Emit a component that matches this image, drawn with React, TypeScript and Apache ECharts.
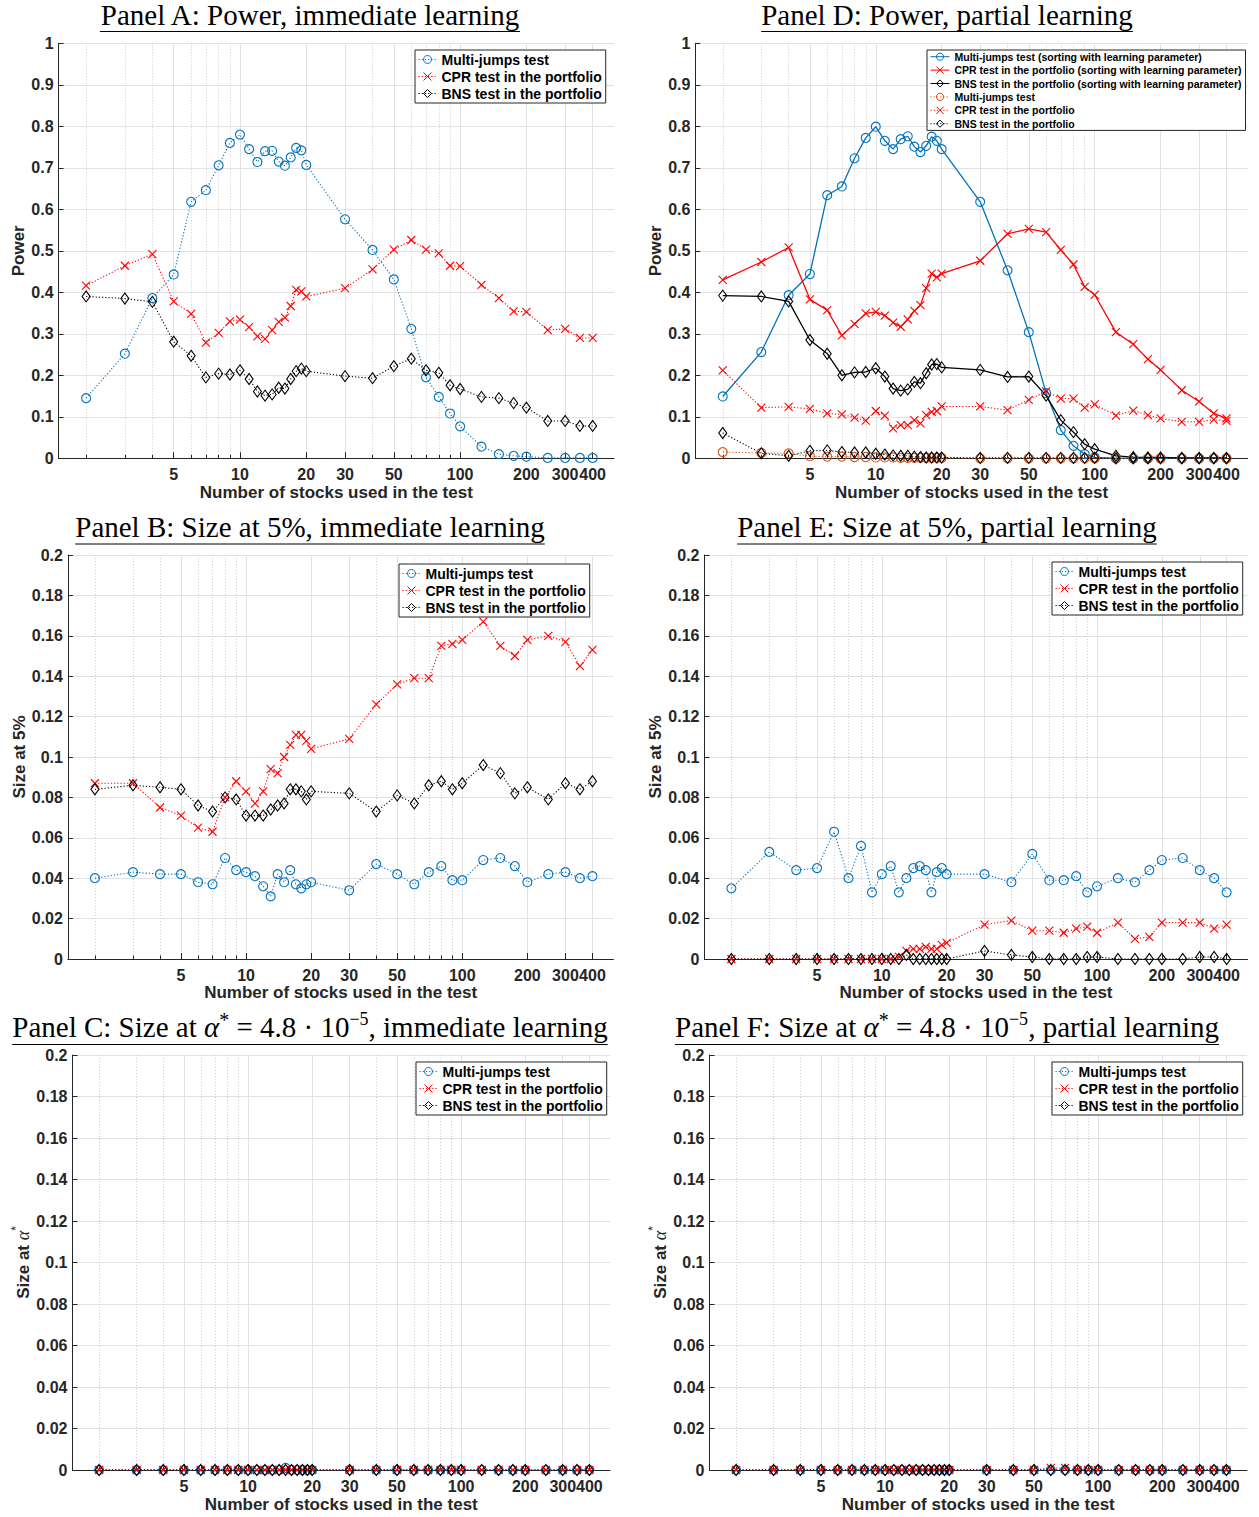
import { useEffect, useRef } from 'react';
import * as echarts from 'echarts';

// Number of stocks in each test portfolio (x positions, log scale)
const STOCKS = [
  2, 3, 4, 5, 6, 7, 8, 9, 10, 11, 12, 13, 14, 15, 16, 17, 18, 19, 20,
  30, 40, 50, 60, 70, 80, 90, 100,
  125, 150, 175, 200, 250, 300, 350, 400,
];
const MAJOR_TICKS = [5, 10, 20, 30, 50, 100, 200, 300, 400];
const MINOR_TICKS = [2, 3, 4, 6, 7, 8, 9, 40, 60, 70, 80, 90];
const X_MIN = 1.5;
const X_MAX = 500;

// Panel A: power, immediate learning
const powerImmMulti = [
  0.145, 0.252, 0.386, 0.443, 0.618, 0.646, 0.706, 0.76, 0.78, 0.745, 0.714, 0.74, 0.741, 0.715, 0.705, 0.725, 0.748, 0.742, 0.707,
  0.576, 0.502, 0.431, 0.312, 0.195, 0.148, 0.108, 0.077,
  0.028, 0.01, 0.006, 0.004, 0.001, 0.001, 0.001, 0.001,
];
const powerImmCpr = [
  0.416, 0.464, 0.492, 0.378, 0.348, 0.279, 0.302, 0.33, 0.334, 0.316, 0.294, 0.288, 0.309, 0.329, 0.339, 0.367, 0.406, 0.402, 0.39,
  0.41, 0.455, 0.503, 0.526, 0.503, 0.494, 0.464, 0.463,
  0.418, 0.386, 0.354, 0.353, 0.309, 0.312, 0.29, 0.29,
];
const powerImmBns = [
  0.39, 0.385, 0.377, 0.281, 0.247, 0.195, 0.204, 0.202, 0.212, 0.191, 0.161, 0.151, 0.154, 0.17, 0.168, 0.191, 0.21, 0.216, 0.21,
  0.198, 0.193, 0.222, 0.24, 0.212, 0.206, 0.176, 0.167,
  0.148, 0.145, 0.133, 0.122, 0.09, 0.09, 0.078, 0.078,
];

// Panel D: power, partial learning
const powerPartMultiSorted = [
  0.149, 0.256, 0.393, 0.444, 0.634, 0.655, 0.723, 0.772, 0.799, 0.765, 0.745, 0.769, 0.776, 0.751, 0.738, 0.753, 0.775, 0.765, 0.745,
  0.618, 0.453, 0.304, 0.157, 0.068, 0.03, 0.01, 0.002,
  0, 0, 0, 0, 0, 0, 0, 0,
];
const powerPartCprSorted = [
  0.43, 0.473, 0.508, 0.383, 0.357, 0.296, 0.324, 0.349, 0.353, 0.344, 0.327, 0.317, 0.335, 0.355, 0.369, 0.41, 0.445, 0.436, 0.445,
  0.476, 0.541, 0.553, 0.545, 0.502, 0.467, 0.413, 0.394,
  0.304, 0.275, 0.239, 0.213, 0.164, 0.137, 0.108, 0.096,
];
const powerPartBnsSorted = [
  0.392, 0.39, 0.378, 0.285, 0.252, 0.2, 0.207, 0.208, 0.217, 0.197, 0.168, 0.163, 0.166, 0.184, 0.181, 0.205, 0.226, 0.227, 0.219,
  0.213, 0.196, 0.197, 0.151, 0.092, 0.063, 0.034, 0.022,
  0.006, 0.003, 0.002, 0.002, 0.001, 0.001, 0.001, 0.001,
];
const powerPartMulti = [
  0.015, 0.013, 0.012, 0.005, 0.004, 0.004, 0.003, 0.003, 0.002, 0.002, 0.002, 0.001, 0.001, 0.001, 0.001, 0.001, 0.001, 0.001, 0.001,
  0, 0, 0, 0, 0, 0, 0, 0,
  0, 0, 0, 0, 0, 0, 0, 0,
];
const powerPartCpr = [
  0.212, 0.122, 0.124, 0.119, 0.108, 0.106, 0.098, 0.091, 0.114, 0.103, 0.072, 0.08, 0.08, 0.092, 0.084, 0.104, 0.112, 0.114, 0.125,
  0.125, 0.116, 0.141, 0.161, 0.144, 0.144, 0.122, 0.13,
  0.103, 0.115, 0.104, 0.096, 0.088, 0.088, 0.093, 0.09,
];
const powerPartBns = [
  0.061, 0.012, 0.006, 0.018, 0.019, 0.015, 0.014, 0.014, 0.011, 0.009, 0.007, 0.006, 0.006, 0.004, 0.003, 0.002, 0.002, 0.002, 0.002,
  0.001, 0.001, 0.001, 0.001, 0.001, 0.001, 0.001, 0.001,
  0, 0, 0, 0, 0, 0, 0, 0,
];

// Panel B: size at 5%, immediate learning
const size5ImmMulti = [
  0.04, 0.043, 0.042, 0.042, 0.038, 0.037, 0.05, 0.044, 0.043, 0.041, 0.036, 0.031, 0.042, 0.038, 0.044, 0.037, 0.035, 0.037, 0.038,
  0.034, 0.047, 0.042, 0.037, 0.043, 0.046, 0.039, 0.039,
  0.049, 0.05, 0.046, 0.038, 0.042, 0.043, 0.04, 0.041,
];
const size5ImmCpr = [
  0.087, 0.087, 0.075, 0.071, 0.065, 0.063, 0.08, 0.088, 0.083, 0.077, 0.083, 0.094, 0.092, 0.1, 0.106, 0.111, 0.111, 0.108, 0.104,
  0.109, 0.126, 0.136, 0.139, 0.139, 0.155, 0.156, 0.158,
  0.167, 0.155, 0.15, 0.158, 0.16, 0.157, 0.145, 0.153,
];
const size5ImmBns = [
  0.084, 0.086, 0.085, 0.084, 0.076, 0.073, 0.08, 0.079, 0.071, 0.071, 0.071, 0.074, 0.076, 0.077, 0.084, 0.084, 0.083, 0.079, 0.083,
  0.082, 0.073, 0.081, 0.077, 0.086, 0.088, 0.084, 0.087,
  0.096, 0.092, 0.082, 0.085, 0.079, 0.087, 0.084, 0.088,
];

// Panel E: size at 5%, partial learning
const size5PartMulti = [
  0.035, 0.053, 0.044, 0.045, 0.063, 0.04, 0.056, 0.033, 0.042, 0.046, 0.033, 0.04, 0.045, 0.046, 0.044, 0.033, 0.043, 0.045, 0.042,
  0.042, 0.038, 0.052, 0.039, 0.039, 0.041, 0.033, 0.036,
  0.04, 0.038, 0.044, 0.049, 0.05, 0.044, 0.04, 0.033,
];
const size5PartCpr = [
  0, 0, 0, 0, 0, 0, 0, 0, 0, 0, 0.001, 0.004, 0.005, 0.005, 0.006, 0.005, 0.005, 0.007, 0.008,
  0.017, 0.019, 0.014, 0.014, 0.013, 0.015, 0.016, 0.013,
  0.018, 0.01, 0.011, 0.018, 0.018, 0.018, 0.015, 0.017,
];
const size5PartBns = [
  0, 0, 0, 0, 0, 0, 0, 0, 0, 0, 0, 0.002, 0, 0, 0, 0, 0, 0, 0,
  0.004, 0.002, 0.001, 0, 0, 0, 0.001, 0.001,
  0, 0, 0, 0, 0, 0.001, 0.001, 0,
];

// Panel C: size at alpha*, immediate learning
const sizeStarImmMulti = [
  0, 0, 0, 0, 0, 0, 0, 0, 0, 0, 0, 0, 0, 0.001, 0, 0, 0, 0, 0,
  0, 0, 0, 0, 0, 0, 0, 0,
  0, 0, 0, 0, 0, 0, 0, 0,
];
const sizeStarImmCpr = [
  0, 0, 0, 0, 0, 0, 0, 0, 0, 0, 0, 0, 0, 0, 0, 0, 0, 0, 0,
  0, 0, 0, 0, 0, 0, 0, 0,
  0, 0, 0, 0, 0, 0, 0, 0,
];
const sizeStarImmBns = [
  0, 0, 0, 0, 0, 0, 0, 0, 0, 0, 0, 0, 0, 0, 0, 0, 0, 0, 0,
  0, 0, 0, 0, 0, 0, 0, 0,
  0, 0, 0, 0, 0, 0, 0, 0,
];

// Panel F: size at alpha*, partial learning
const sizeStarPartMulti = [
  0, 0, 0, 0, 0, 0, 0, 0, 0, 0, 0, 0, 0, 0, 0, 0, 0, 0, 0,
  0, 0, 0, 0, 0, 0, 0, 0,
  0, 0, 0, 0, 0, 0, 0, 0,
];
const sizeStarPartCpr = [
  0, 0, 0, 0, 0, 0, 0, 0, 0, 0, 0, 0, 0, 0, 0, 0, 0, 0, 0,
  0, 0, 0, 0.001, 0.001, 0, 0, 0,
  0, 0, 0, 0, 0, 0, 0, 0,
];
const sizeStarPartBns = [
  0, 0, 0, 0, 0, 0, 0, 0, 0, 0, 0, 0, 0, 0, 0, 0, 0, 0, 0,
  0, 0, 0, 0, 0, 0, 0, 0,
  0, 0, 0, 0, 0, 0, 0, 0,
];

const MULTI = 'Multi-jumps test';
const CPR = 'CPR test in the portfolio';
const BNS = 'BNS test in the portfolio';
const SORTED = ' (sorting with learning parameter)';

const BLUE = '#0072BD';
const RED = '#FF0000';
const BLACK = '#000000';
const ORANGE = '#D95319';
const AXIS_GREY = '#262626';
const SANS = "'Liberation Sans', Arial, Helvetica, sans-serif";
const SERIF = "'Liberation Serif', 'Times New Roman', serif";

type Marker = 'o' | 'x' | 'd';
type Line = { name: string; values: number[]; color: string; marker: Marker; solid?: boolean };
type Panel = {
  id: string;
  grid: [number, number, number, number];
  yMax: number;
  yStep: number;
  yName: string;
  yRich?: boolean;
  yNameGap: number;
  xNameGap: number;
  legendAt: [number, number];
  smallLegend?: boolean;
  lines: Line[];
};

const immediateLines = (m: number[], c: number[], b: number[]): Line[] => [
  { name: MULTI, values: m, color: BLUE, marker: 'o' },
  { name: CPR, values: c, color: RED, marker: 'x' },
  { name: BNS, values: b, color: BLACK, marker: 'd' },
];

const PANELS: Panel[] = [
  {
    id: 'A', grid: [58.6, 43.3, 555.4, 415], yMax: 1, yStep: 0.1, yName: 'Power', yNameGap: 29, xNameGap: 26,
    legendAt: [415, 50], lines: immediateLines(powerImmMulti, powerImmCpr, powerImmBns),
  },
  {
    id: 'D', grid: [695.4, 43.3, 552.3, 415], yMax: 1, yStep: 0.1, yName: 'Power', yNameGap: 29, xNameGap: 26,
    legendAt: [927, 50], smallLegend: true,
    lines: [
      { name: MULTI + SORTED, values: powerPartMultiSorted, color: BLUE, marker: 'o', solid: true },
      { name: CPR + SORTED, values: powerPartCprSorted, color: RED, marker: 'x', solid: true },
      { name: BNS + SORTED, values: powerPartBnsSorted, color: BLACK, marker: 'd', solid: true },
      { name: MULTI, values: powerPartMulti, color: ORANGE, marker: 'o' },
      { name: CPR, values: powerPartCpr, color: RED, marker: 'x' },
      { name: BNS, values: powerPartBns, color: BLACK, marker: 'd' },
    ],
  },
  {
    id: 'B', grid: [67.9, 555, 545.5, 404], yMax: 0.2, yStep: 0.02, yName: 'Size at 5%', yNameGap: 38, xNameGap: 25,
    legendAt: [399, 564], lines: immediateLines(size5ImmMulti, size5ImmCpr, size5ImmBns),
  },
  {
    id: 'E', grid: [704.5, 555, 543, 404], yMax: 0.2, yStep: 0.02, yName: 'Size at 5%', yNameGap: 38, xNameGap: 25,
    legendAt: [1052, 562], lines: immediateLines(size5PartMulti, size5PartCpr, size5PartBns),
  },
  {
    id: 'C', grid: [72.5, 1055, 537.5, 415], yMax: 0.2, yStep: 0.02, yName: 'Size at {a|α}{s|*}', yRich: true, yNameGap: 36, xNameGap: 26,
    legendAt: [416, 1062], lines: immediateLines(sizeStarImmMulti, sizeStarImmCpr, sizeStarImmBns),
  },
  {
    id: 'F', grid: [709.5, 1055, 537.5, 415], yMax: 0.2, yStep: 0.02, yName: 'Size at {a|α}{s|*}', yRich: true, yNameGap: 36, xNameGap: 26,
    legendAt: [1052, 1062], lines: immediateLines(sizeStarPartMulti, sizeStarPartCpr, sizeStarPartBns),
  },
];

type TitlePart = { text: string; style?: 'it' | 'sup' | 'ast' };
type Title = { cx: number; cy: number; lineY: number; parts: TitlePart[] };

const alphaStarParts = (tail: string): TitlePart[] => [
  { text: 'Panel ' + tail.charAt(0) + ': Size at ' },
  { text: 'α', style: 'it' },
  { text: '*', style: 'ast' },
  { text: ' = 4.8 · 10' },
  { text: '−5', style: 'sup' },
  { text: tail.slice(1) },
];

const TITLES: Title[] = [
  { cx: 310, cy: 15, lineY: 31.5, parts: [{ text: 'Panel A: Power, immediate learning' }] },
  { cx: 947, cy: 15, lineY: 31.5, parts: [{ text: 'Panel D: Power, partial learning' }] },
  { cx: 310, cy: 527, lineY: 544, parts: [{ text: 'Panel B: Size at 5%, immediate learning' }] },
  { cx: 947, cy: 527, lineY: 544, parts: [{ text: 'Panel E: Size at 5%, partial learning' }] },
  { cx: 310, cy: 1027, lineY: 1044.5, parts: alphaStarParts('C, immediate learning') },
  { cx: 947, cy: 1027, lineY: 1044.5, parts: alphaStarParts('F, partial learning') },
];

const TITLE_SIZE = 29;
const SUP_SIZE = 18;
const AST_SIZE = 20;

const MARKERS: Record<Marker, { symbol: string; size: number | number[] }> = {
  o: { symbol: 'circle', size: 9 },
  x: { symbol: 'path://M0,0L10,10M10,0L0,10', size: 8 },
  d: { symbol: 'diamond', size: [8, 11] },
};

const log10 = (v: number) => Math.log10(v);
const fmtStock = (v: number) => String(Math.round(Math.pow(10, v)));
const fmtY = (v: number) => String(Math.round(v * 1000) / 1000);

function titleFont(style?: 'it' | 'sup' | 'ast') {
  if (style === 'sup') return `${SUP_SIZE}px ${SERIF}`;
  if (style === 'ast') return `${AST_SIZE}px ${SERIF}`;
  if (style === 'it') return `italic ${TITLE_SIZE}px ${SERIF}`;
  return `${TITLE_SIZE}px ${SERIF}`;
}

function measureTitle(parts: TitlePart[]) {
  const ctx = document.createElement('canvas').getContext('2d');
  if (!ctx) return 400;
  let w = 0;
  for (const p of parts) {
    ctx.font = titleFont(p.style);
    w += ctx.measureText(p.text).width;
  }
  return w;
}

function buildOption() {
  const grid = PANELS.map((p) => ({
    left: p.grid[0], top: p.grid[1], width: p.grid[2], height: p.grid[3],
    containLabel: false, outerBoundsMode: 'none',
  }));

  const xAxis: any[] = [];
  PANELS.forEach((p, i) => {
    // labelled axis with major ticks and solid grid lines
    xAxis.push({
      type: 'value', gridIndex: i, position: 'bottom', min: log10(X_MIN), max: log10(X_MAX),
      name: 'Number of stocks used in the test', nameLocation: 'middle', nameGap: p.xNameGap,
      nameTextStyle: { fontFamily: SANS, fontWeight: 'bold', fontSize: 17, color: AXIS_GREY },
      axisLine: { show: true, onZero: false, lineStyle: { color: AXIS_GREY, width: 1 } },
      axisTick: { show: true, inside: true, length: 6, customValues: MAJOR_TICKS.map(log10), lineStyle: { color: AXIS_GREY } },
      axisLabel: {
        show: true, customValues: MAJOR_TICKS.map(log10), formatter: fmtStock, margin: 8,
        fontFamily: SANS, fontWeight: 'bold', fontSize: 16, color: AXIS_GREY,
      },
      splitLine: { show: true, lineStyle: { color: '#e2e2e2', width: 1, type: 'solid' } },
      z: 3,
    });
    // minor decade positions: short ticks and dotted grid lines
    xAxis.push({
      type: 'value', gridIndex: i, position: 'bottom', min: log10(X_MIN), max: log10(X_MAX),
      axisLine: { show: false },
      axisTick: { show: true, inside: true, length: 3.5, customValues: MINOR_TICKS.map(log10), lineStyle: { color: AXIS_GREY } },
      axisLabel: { show: false },
      splitLine: { show: true, lineStyle: { color: '#cdcdcd', width: 1, type: [1, 2] } },
      z: 3,
    });
  });

  const yAxis = PANELS.map((p, i) => ({
    type: 'value', gridIndex: i, min: 0, max: p.yMax, interval: p.yStep,
    name: p.yName, nameLocation: 'middle', nameGap: p.yNameGap, nameRotate: 90,
    nameTextStyle: {
      fontFamily: SANS, fontWeight: 'bold', fontSize: 17, color: AXIS_GREY,
      rich: p.yRich
        ? {
            a: { fontFamily: SERIF, fontStyle: 'italic', fontWeight: 'normal', fontSize: 18, color: AXIS_GREY, lineHeight: 26 },
            s: { fontFamily: SANS, fontWeight: 'normal', fontSize: 12, color: AXIS_GREY, verticalAlign: 'top', lineHeight: 12 },
          }
        : undefined,
    },
    axisLine: { show: true, onZero: false, lineStyle: { color: AXIS_GREY, width: 1 } },
    axisTick: { show: true, inside: true, length: 5, lineStyle: { color: AXIS_GREY } },
    axisLabel: { formatter: fmtY, margin: 5, fontFamily: SANS, fontWeight: 'bold', fontSize: 16, color: AXIS_GREY },
    splitLine: { show: true, lineStyle: { color: '#e2e2e2', width: 1 } },
    z: 3,
  }));

  const series: any[] = [];
  PANELS.forEach((p, i) => {
    p.lines.forEach((l) => {
      const mk = MARKERS[l.marker];
      series.push({
        type: 'line',
        name: `${p.id}|${l.name}`,
        xAxisIndex: 2 * i,
        yAxisIndex: i,
        data: STOCKS.map((n, j) => [log10(n), l.values[j]]),
        symbol: mk.symbol,
        symbolSize: mk.size,
        showSymbol: true,
        clip: false,
        silent: true,
        lineStyle: { color: l.color, width: l.solid ? 1.3 : 1.1, type: l.solid ? 'solid' : [1.2, 2] },
        itemStyle: { color: 'none', borderColor: l.color, borderWidth: 1.1 },
        emphasis: { disabled: true },
        z: 4,
      });
    });
  });

  const legend = PANELS.map((p) => {
    const small = !!p.smallLegend;
    return {
      show: true,
      orient: 'vertical',
      align: 'left',
      left: p.legendAt[0],
      top: p.legendAt[1],
      data: p.lines.map((l) => `${p.id}|${l.name}`),
      formatter: (name: string) => name.slice(2),
      selectedMode: false,
      itemGap: 0,
      itemWidth: small ? 19 : 18,
      itemHeight: small ? 9 : 10,
      padding: small ? [0, 4, 0, 3] : [1, 4, 1, 3],
      backgroundColor: '#ffffff',
      borderColor: AXIS_GREY,
      borderWidth: 1,
      borderRadius: 0,
      itemStyle: { borderWidth: 1 },
      lineStyle: { width: 1 },
      textStyle: {
        fontFamily: SANS, fontWeight: 'bold', color: '#000',
        fontSize: small ? 10.5 : 14, lineHeight: small ? 13.4 : 17,
      },
      z: 10,
    };
  });

  const graphic: any[] = [];
  TITLES.forEach((t) => {
    const text = t.parts
      .map((part) => (part.style ? `{${part.style}|${part.text}}` : part.text))
      .join('');
    const width = measureTitle(t.parts);
    graphic.push({
      type: 'text',
      x: t.cx,
      y: t.cy,
      silent: true,
      style: {
        text,
        fill: '#000',
        fontSize: TITLE_SIZE,
        fontFamily: SERIF,
        fontWeight: 'normal',
        align: 'center',
        verticalAlign: 'middle',
        lineHeight: 34,
        rich: {
          it: { fontSize: TITLE_SIZE, fontFamily: SERIF, fontStyle: 'italic', fill: '#000', lineHeight: 34 },
          sup: { fontSize: SUP_SIZE, fontFamily: SERIF, fill: '#000', verticalAlign: 'top', lineHeight: SUP_SIZE },
          ast: { fontSize: AST_SIZE, fontFamily: SERIF, fill: '#000', verticalAlign: 'top', lineHeight: AST_SIZE + 4 },
        },
      },
    });
    graphic.push({
      type: 'line',
      silent: true,
      shape: { x1: t.cx - width / 2, y1: t.lineY, x2: t.cx + width / 2, y2: t.lineY },
      style: { stroke: '#000', lineWidth: 1 },
    });
  });

  return {
    animation: false,
    backgroundColor: '#ffffff',
    textStyle: { fontFamily: SANS },
    grid,
    xAxis,
    yAxis,
    series,
    legend,
    graphic,
  };
}

export default function App() {
  const ref = useRef<HTMLDivElement>(null);

  useEffect(() => {
    if (!ref.current) return;
    const chart = echarts.init(ref.current, undefined, { renderer: 'svg' });
    chart.setOption(buildOption() as any);
    return () => chart.dispose();
  }, []);

  return (
    <div
      ref={ref}
      style={{ position: 'absolute', left: 0, top: 0, width: 1259, height: 1517, background: '#fff' }}
    />
  );
}
